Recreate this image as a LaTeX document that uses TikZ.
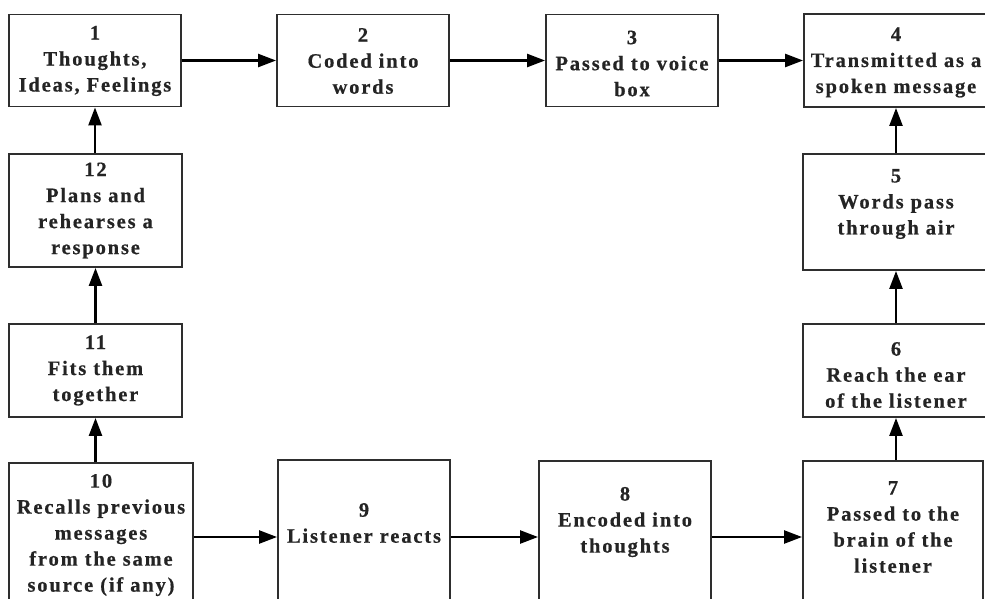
\documentclass[tikz,border=0pt]{standalone}
\usepackage{fontspec}
\setmainfont{Liberation Serif}[LetterSpace=9, BoldFeatures={FakeBold=0.6}]
\usetikzlibrary{arrows.meta,calc}
\definecolor{ink}{HTML}{242424}
\definecolor{frame}{HTML}{2E2E2E}
\tikzset{
  box/.style={draw=frame, line width=1.9pt, inner sep=0pt, fill=none},
  txt/.style={text=ink, align=center, font=\bfseries\fontsize{20.5}{26}\selectfont, inner sep=0pt},
  arr/.style={draw=black, line width=2.4pt, -{Triangle[length=18pt,width=13pt]}}
}
\begin{document}
\begin{tikzpicture}[x=1pt,y=-1pt]
\useasboundingbox (0,0) rectangle (985,598);
\clip (0,0) rectangle (985,598);

% frames of the twelve stages
\node[box, minimum width=172pt, minimum height=92pt]  (n1)  at (95,60.5)   {};
\node[box, minimum width=172pt, minimum height=92pt]  (n2)  at (363,60.5)  {};
\node[box, minimum width=172pt, minimum height=92pt]  (n3)  at (632,60.5)  {};
\node[box, minimum width=184pt, minimum height=93pt]  (n4)  at (896,60.5)  {};
\node[box, minimum width=186pt, minimum height=116pt] (n5)  at (896,212)   {};
\node[box, minimum width=186pt, minimum height=93pt]  (n6)  at (896,370.5) {};
\node[box, minimum width=180pt, minimum height=152pt] (n7)  at (893,537)   {};
\node[box, minimum width=172pt, minimum height=152pt] (n8)  at (625,537)   {};
\node[box, minimum width=172pt, minimum height=154pt] (n9)  at (364,537)   {};
\node[box, minimum width=184pt, minimum height=148pt] (n10) at (101,537)   {};
\node[box, minimum width=173pt, minimum height=93pt]  (n11) at (95.5,370.5){};
\node[box, minimum width=173pt, minimum height=113pt] (n12) at (95.5,210.5){};

% stage captions
\node[txt] (t1)  at ($(n1)+(0,0.5)$)  {1\\Thoughts,\\Ideas, Feelings};
\node[txt] (t2)  at ($(n2)+(0,0.5)$)  {2\\Coded into\\words};
\node[txt] (t3)  at ($(n3)+(0,3)$)    {3\\Passed to voice\\box};
\node[txt] (t4)  at ($(n4)+(0,2)$)    {4\\Transmitted as a\\spoken message};
\node[txt] (t5)  at ($(n5)+(0,-8)$)   {5\\Words pass\\through air};
\node[txt] (t6)  at ($(n6)+(0,4.5)$)  {6\\Reach the ear\\of the listener};
\node[txt] (t7)  at ($(n7)+(0,-10)$)  {7\\Passed to the\\brain of the\\listener};
\node[txt] (t8)  at ($(n8)+(0,-15)$)  {8\\Encoded into\\thoughts};
\node[txt] (t9)  at ($(n9)+(0,-14)$)  {9\\Listener reacts};
\node[txt] (t10) at ($(n10)+(0,-2)$)  {10\\Recalls previous\\messages\\from the same\\source (if any)};
\node[txt] (t11) at ($(n11)+(0,0)$)   {11\\Fits them\\together};
\node[txt] (t12) at ($(n12)+(0,0)$)   {12\\Plans and\\rehearses a\\response};

% flow along the top row
\draw[arr] (n1.east) -- (n2.west);
\draw[arr] (n2.east) -- (n3.west);
\draw[arr] (n3.east) -- (n4.west);
% up the right column
\draw[arr] (n6.south |- n7.north) -- (n6.south);
\draw[arr] (n6.north) -- (n5.south);
\draw[arr] (n5.north) -- (n4.south);
% along the bottom row
\draw[arr] (n10.east) -- (n9.west);
\draw[arr] (n9.east) -- (n8.west);
\draw[arr] (n8.east) -- (n7.west);
% up the left column
\draw[arr] (n11.south |- n10.north) -- (n11.south);
\draw[arr] (n11.north) -- (n12.south);
\draw[arr] (n1.south |- n12.north) -- (n1.south);
\end{tikzpicture}
\end{document}
